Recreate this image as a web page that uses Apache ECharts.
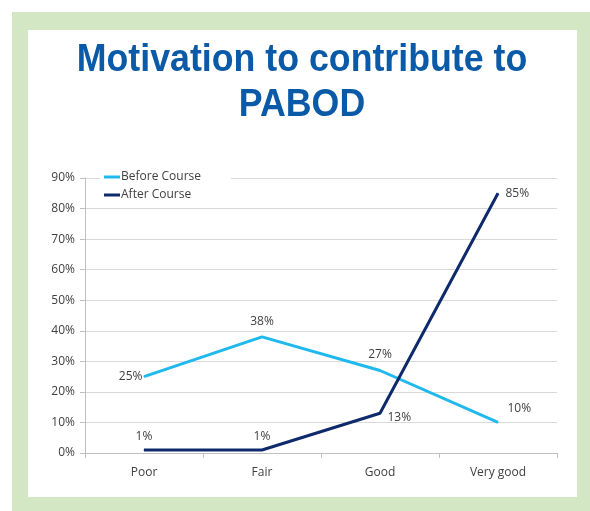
<!DOCTYPE html>
<html><head><meta charset="utf-8">
<script src="https://cdn.jsdelivr.net/npm/echarts@6/dist/echarts.min.js"></script>
<style>html,body{margin:0;padding:0;background:#fff}#c{width:590px;height:511px}</style>
</head><body><div id="c"></div>
<script>
const categories = ['Poor', 'Fair', 'Good', 'Very good'];
const beforeValues = [25, 38, 27, 10];
const afterValues = [1, 1, 13, 85];
const yTicks = [0, 10, 20, 30, 40, 50, 60, 70, 80, 90];
const seriesNames = ['Before Course', 'After Course'];
const titleLines = ['Motivation to contribute to', 'PABOD'];

const beforePos = ['left', 'top', 'top', 'right'];
const afterPos = ['top', 'top', 'right', 'right'];
const beforeOffsets = [[4, 0], [0, -4], [0, -4], [4, -14]];
const afterOffsets = [[0, -2], [0, -2], [2, 4], [2, 0]];

const chart = echarts.init(document.getElementById('c'));
const lblStyle = {color: '#404040', fontSize: 12, fontFamily: 'Open Sans, Liberation Sans, sans-serif'};
function mk(vals, pos, offs) {
  return vals.map((v, i) => ({value: v, label: Object.assign({show: true, position: pos[i], offset: offs[i], formatter: '{c}%'}, lblStyle)}));
}
const titleFont = 'bold 38px "Liberation Sans", Arial, sans-serif';
chart.setOption({
  animation: false,
  graphic: [
    {type: 'rect', shape: {x: 12, y: 12, width: 578, height: 499}, style: {fill: '#D4E7C4'}, z: -10},
    {type: 'rect', shape: {x: 28, y: 30, width: 549, height: 467}, style: {fill: '#FFFFFF'}, z: -9},
    {type: 'text', x: 302, y: 61, scaleX: 0.94, style: {text: titleLines[0], textAlign: 'center', textVerticalAlign: 'middle', font: titleFont, fill: '#0A5AA8'}},
    {type: 'text', x: 302, y: 106, scaleX: 0.94, style: {text: titleLines[1], textAlign: 'center', textVerticalAlign: 'middle', font: titleFont, fill: '#0A5AA8'}}
  ],
  legend: {
    data: seriesNames, orient: 'vertical', left: 100, top: 169,
    itemWidth: 16, itemHeight: 3, itemGap: 6, icon: 'rect',
    backgroundColor: '#fff', padding: [2, 30, 2, 4],
    textStyle: {color: '#404040', fontSize: 12, fontFamily: 'Open Sans, Liberation Sans, sans-serif', padding: [0, 0, 0, -4]}
  },
  grid: {left: 85, right: 33, top: 178, bottom: 58},
  xAxis: {
    type: 'category', data: categories, boundaryGap: true,
    axisLine: {lineStyle: {color: '#BFBFBF'}},
    axisTick: {show: true, lineStyle: {color: '#BFBFBF'}, length: 5},
    axisLabel: Object.assign({margin: 14}, lblStyle)
  },
  yAxis: {
    type: 'value', min: 0, max: 90, interval: 10,
    axisLine: {show: true, lineStyle: {color: '#BFBFBF'}},
    axisTick: {show: true, lineStyle: {color: '#BFBFBF'}, length: 5},
    splitLine: {lineStyle: {color: '#D9D9D9', width: 1}},
    axisLabel: Object.assign({formatter: v => yTicks.includes(v) ? v + '%' : '', margin: 10}, lblStyle)
  },
  series: [
    {name: seriesNames[0], type: 'line', data: mk(beforeValues, beforePos, beforeOffsets), symbol: 'circle', symbolSize: 1, showSymbol: true, lineStyle: {color: '#1FB9EE', width: 3}, itemStyle: {color: '#1FB9EE'}},
    {name: seriesNames[1], type: 'line', data: mk(afterValues, afterPos, afterOffsets), symbol: 'circle', symbolSize: 1, showSymbol: true, lineStyle: {color: '#0E2A6C', width: 3}, itemStyle: {color: '#0E2A6C'}}
  ]
});
</script></body></html>
